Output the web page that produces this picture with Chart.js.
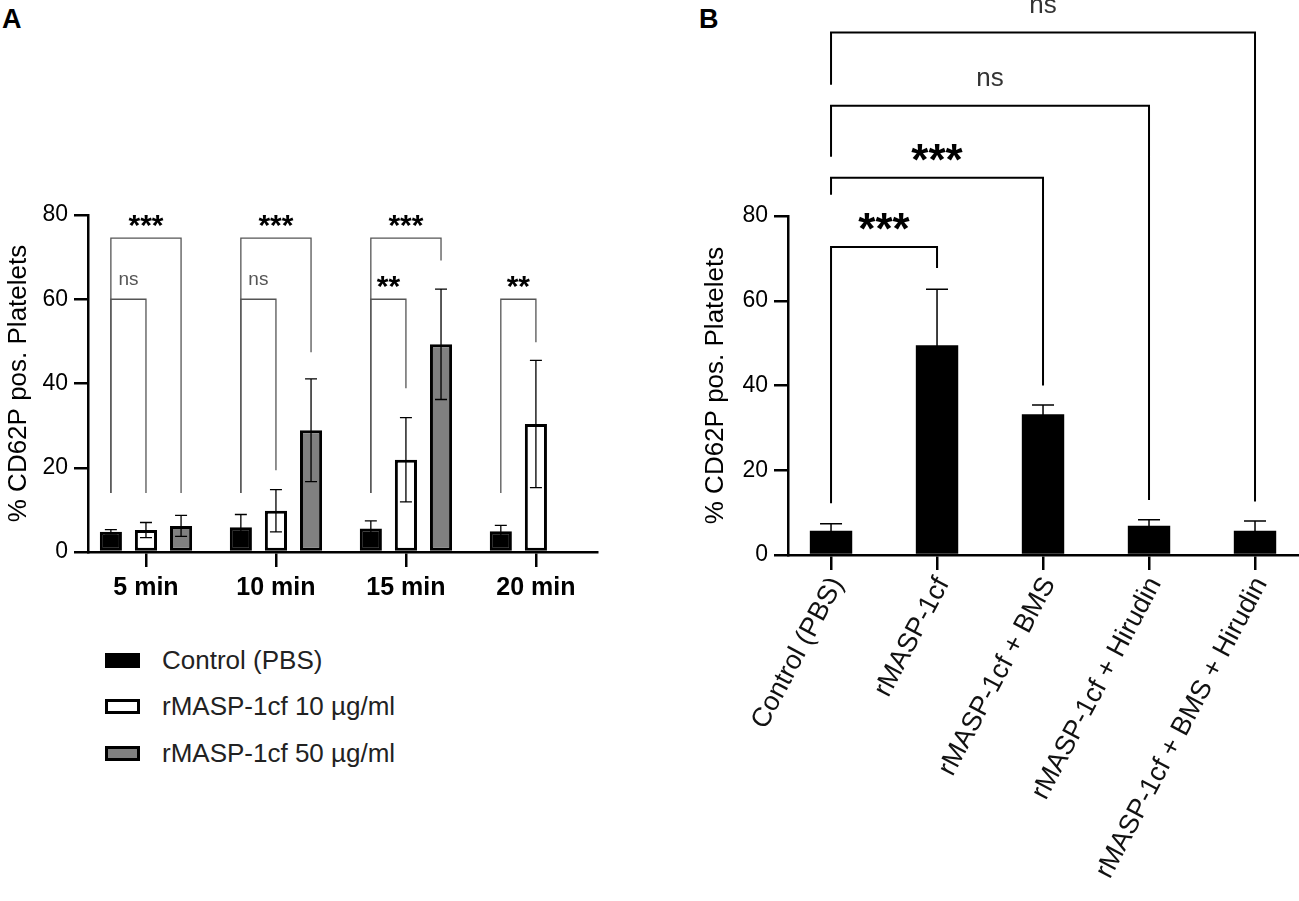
<!DOCTYPE html>
<html>
<head>
<meta charset="utf-8">
<script src="https://cdn.jsdelivr.net/npm/chart.js@4.4.1/dist/chart.umd.min.js"></script>
<style>
  body { margin: 0; width: 1299px; height: 901px; overflow: hidden; background: #fff; position: relative;
         font-family: 'Liberation Sans', Arial, sans-serif; }
  canvas { position: absolute; top: 0; }
  .panel { position: absolute; top: 4px; font-weight: bold; font-size: 27px; }
  #legendA { position: absolute; left: 105px; top: 637px; }
  .legRow { height: 46.5px; display: flex; align-items: center; font-size: 26px; color: #222; }
  .legBox { width: 35px; height: 15px; box-sizing: border-box; border: 3px solid #000; margin-right: 22px; }
</style>
</head>
<body>
<div class="panel" style="left:2px">A</div>
<div class="panel" style="left:699px">B</div>
<canvas id="chartA" width="650" height="620" style="left:0"></canvas>
<div id="legendA"></div>
<canvas id="chartB" width="649" height="901" style="left:650px"></canvas>
<script>
// ---- Panel A: time course ----
const timeLabels = ['5 min', '10 min', '15 min', '20 min'];
const seriesNames = ['Control (PBS)', 'rMASP-1cf 10 µg/ml', 'rMASP-1cf 50 µg/ml'];
const controlMean = [4.8, 5.9, 5.6, 4.9];
const controlSd = [0.5, 3.0, 1.8, 1.4];
const low10Mean = [5.2, 9.8, 21.9, 30.4];
const low10Sd = [1.8, 5.0, 10.0, 15.1];
const high50Mean = [6.2, 28.9, 49.3, null];
const high50Sd = [2.5, 12.2, 13.1, null];
const seriesFill = ['#000000', '#ffffff', '#808080'];

// [category, from series, to series, level, left foot, right foot, label]
const bracketsA = [
  [0, 0, 2, 74.5, 14, 14, '***'],
  [0, 0, 1, 60, 14, 14, 'ns'],
  [1, 0, 2, 74.5, 14, 47.4, '***'],
  [1, 0, 1, 60, 14, 19.4, 'ns'],
  [2, 0, 2, 74.5, 14, 69.2, '***'],
  [2, 0, 1, 60, 14, 38.9, '**'],
  [3, 0, 1, 60, 14, 49.8, '**']
];

// ---- Panel B: inhibitors ----
const treatmentLabels = ['Control (PBS)', 'rMASP-1cf', 'rMASP-1cf + BMS', 'rMASP-1cf + Hirudin', 'rMASP-1cf + BMS + Hirudin'];
const treatmentMean = [5.7, 49.5, 33.2, 6.9, 5.7];
const treatmentSd = [1.7, 13.2, 2.2, 1.4, 2.3];

// [from bar, to bar, level, left foot, right foot, label]
const bracketsB = [
  [0, 1, 72.7, 12.2, 67.7, '***'],
  [0, 2, 89.0, 85.0, 40.0, '***'],
  [0, 3, 106.0, 94.0, 13.0, 'ns'],
  [0, 4, 123.3, 111.0, 12.6, 'ns']
];

const yTitle = '% CD62P pos. Platelets';

Chart.defaults.font.family = "'Liberation Sans', Arial, sans-serif";
Chart.defaults.color = '#000';

const errorBars = {
  id: 'errorBars',
  afterDatasetsDraw(chart, args, opts) {
    const ctx = chart.ctx;
    const y = chart.scales.y;
    ctx.save();
    ctx.strokeStyle = '#000';
    ctx.lineWidth = opts.lineWidth;
    chart.data.datasets.forEach((ds, i) => {
      const meta = chart.getDatasetMeta(i);
      meta.data.forEach((bar, j) => {
        const m = meta.controller.getParsed(j).y, sd = ds.sd[j];
        if (m == null || isNaN(m) || sd == null) return;
        const top = y.getPixelForValue(m + sd);
        const bot = y.getPixelForValue(m - sd);
        const h = opts.capWidth / 2;
        ctx.beginPath();
        ctx.moveTo(bar.x, top); ctx.lineTo(bar.x, bot);
        ctx.moveTo(bar.x - h, top); ctx.lineTo(bar.x + h, top);
        ctx.moveTo(bar.x - h, bot); ctx.lineTo(bar.x + h, bot);
        ctx.stroke();
      });
    });
    ctx.restore();
  }
};

function drawBracket(ctx, y, x1, x2, level, footL, footR, label, o) {
  const py = y.getPixelForValue(level);
  ctx.beginPath();
  ctx.moveTo(x1, y.getPixelForValue(footL));
  ctx.lineTo(x1, py);
  ctx.lineTo(x2, py);
  ctx.lineTo(x2, y.getPixelForValue(footR));
  ctx.stroke();
  const stars = label.indexOf('*') >= 0;
  ctx.font = stars ? o.starFont : o.nsFont;
  ctx.fillStyle = stars ? '#000' : o.nsColor;
  ctx.fillText(label, (x1 + x2) / 2, py - (stars ? o.starRise : o.nsRise));
}

const brackets = {
  id: 'brackets',
  afterDraw(chart, args, o) {
    const ctx = chart.ctx;
    const y = chart.scales.y;
    ctx.save();
    ctx.strokeStyle = o.lineColor;
    ctx.lineWidth = o.lineWidth;
    ctx.textAlign = 'center';
    ctx.textBaseline = 'alphabetic';
    if (o.grouped) {
      o.list.forEach(b => {
        const x1 = chart.getDatasetMeta(b[1]).data[b[0]].x;
        const x2 = chart.getDatasetMeta(b[2]).data[b[0]].x;
        drawBracket(ctx, y, x1, x2, b[3], b[4], b[5], b[6], o);
      });
    } else {
      const bars = chart.getDatasetMeta(0).data;
      o.list.forEach(b => {
        drawBracket(ctx, y, bars[b[0]].x, bars[b[1]].x, b[2], b[3], b[4], b[5], o);
      });
    }
    ctx.restore();
  }
};

function yAxis(width, titleGap) {
  return {
    min: 0, max: 80,
    afterFit(s) { s.width = width; },
    ticks: { stepSize: 20, font: { size: 23 }, padding: 6, color: '#000' },
    grid: { drawOnChartArea: false, tickLength: 14, color: '#000', lineWidth: 2.5 },
    border: { display: true, color: '#000', width: 2.5 },
    title: { display: true, text: yTitle, font: { size: 26 }, color: '#000', padding: { top: titleGap, bottom: 0 } }
  };
}

function xAxis(labels, min, max, height, tickOpts) {
  return {
    type: 'linear', min: min, max: max, offset: false,
    afterFit(s) { s.height = height; },
    afterBuildTicks(s) { s.ticks = labels.map((_, i) => ({ value: i })); },
    ticks: Object.assign({ callback: v => labels[v], autoSkip: false, color: '#000' }, tickOpts),
    grid: { offset: false, drawOnChartArea: false, tickLength: 15, color: '#000', lineWidth: 2.5 },
    border: { display: true, color: '#000', width: 2.5 }
  };
}

const toPoints = arr => arr.map((v, i) => ({ x: i, y: v }));

new Chart(document.getElementById('chartA'), {
  type: 'bar',
  data: {
    datasets: [
      { label: seriesNames[0], data: toPoints(controlMean), sd: controlSd },
      { label: seriesNames[1], data: toPoints(low10Mean), sd: low10Sd },
      { label: seriesNames[2], data: toPoints(high50Mean), sd: high50Sd }
    ].map((d, i) => Object.assign(d, {
      backgroundColor: seriesFill[i], borderColor: '#000', borderWidth: 3,
      borderSkipped: false, categoryPercentage: 0.81, barPercentage: 0.63
    }))
  },
  options: {
    responsive: false,
    animation: false,
    layout: { padding: { left: 0, top: 215, right: 53, bottom: 0 } },
    scales: {
      x: xAxis(timeLabels, -0.446, 3.47, 68,
               { font: { size: 25, weight: 'bold' }, padding: 6, maxRotation: 0 }),
      y: yAxis(88, 3)
    },
    plugins: {
      legend: { display: false },
      tooltip: { enabled: false },
      errorBars: { capWidth: 12, lineWidth: 1.3 },
      brackets: { grouped: true, list: bracketsA, lineColor: '#555', lineWidth: 1.3,
                  starFont: 'bold 30px "Liberation Sans", Arial', nsFont: '19px "Liberation Sans", Arial',
                  nsColor: '#555', starRise: 3, nsRise: 14 }
    }
  },
  plugins: [errorBars, brackets]
});

// legend for panel A, built from the series
const legend = document.getElementById('legendA');
seriesNames.forEach((name, i) => {
  const row = document.createElement('div');
  row.className = 'legRow';
  const box = document.createElement('div');
  box.className = 'legBox';
  box.style.background = seriesFill[i];
  const txt = document.createElement('span');
  txt.textContent = name;
  row.appendChild(box);
  row.appendChild(txt);
  legend.appendChild(row);
});

new Chart(document.getElementById('chartB'), {
  type: 'bar',
  data: {
    datasets: [{
      data: toPoints(treatmentMean), sd: treatmentSd,
      backgroundColor: '#000', borderWidth: 0,
      categoryPercentage: 1, barPercentage: 0.4
    }]
  },
  options: {
    responsive: false,
    animation: false,
    layout: { padding: { left: 0, top: 216, right: 0, bottom: 0 } },
    scales: {
      x: xAxis(treatmentLabels, -0.406, 4.415, 346,
               { font: { size: 27 }, padding: 2, minRotation: 62, maxRotation: 62, labelOffset: 6, color: '#111' }),
      y: yAxis(138, 50)
    },
    plugins: {
      legend: { display: false },
      tooltip: { enabled: false },
      errorBars: { capWidth: 22, lineWidth: 1.5 },
      brackets: { grouped: false, list: bracketsB, lineColor: '#000', lineWidth: 2,
                  starFont: 'bold 44px "Liberation Sans", Arial', nsFont: '26px "Liberation Sans", Arial',
                  nsColor: '#333', starRise: 3, nsRise: 20 }
    }
  },
  plugins: [errorBars, brackets]
});
</script>
</body>
</html>
